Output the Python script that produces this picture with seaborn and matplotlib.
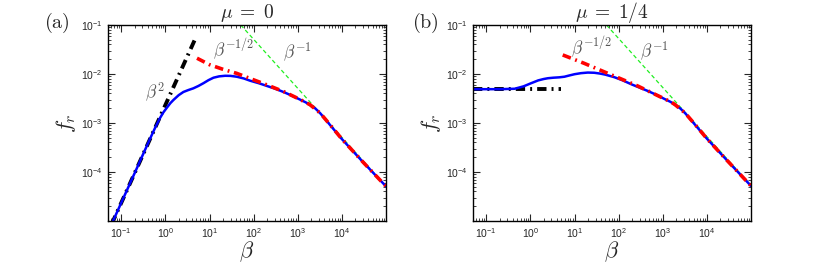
import numpy as np
import pandas as pd
import matplotlib
matplotlib.use("Agg")
import matplotlib.pyplot as plt
import matplotlib.ticker as mticker
import seaborn as sns

# ---------------- data ----------------
# panel (a): mu = 0
a_beta_fr = [0.06, 0.065, 0.2, 0.3, 0.45, 0.6, 0.75, 0.9, 1.1, 1.3, 1.52, 2.0, 2.56, 3.3, 4.3,
             5.6, 7.3, 9.5, 12.3, 16.5, 22.6, 30, 41.5, 60, 83, 130, 200, 310, 473, 720, 1130,
             1500, 1900, 2500, 3230, 4200, 5400, 10000, 30000, 100000]
a_fr = [8.5e-6, 1.0e-5, 9.4e-5, 2.13e-4, 4.8e-4, 8.4e-4, 1.25e-3, 1.65e-3, 2.1e-3, 2.55e-3,
        2.95e-3, 3.7e-3, 4.3e-3, 4.7e-3, 5.1e-3, 5.7e-3, 6.5e-3, 7.5e-3, 8.4e-3, 8.95e-3,
        9.2e-3, 9.15e-3, 8.8e-3, 8.1e-3, 7.3e-3, 6.5e-3, 5.7e-3, 5.0e-3, 4.3e-3, 3.65e-3,
        3.0e-3, 2.65e-3, 2.34e-3, 1.98e-3, 1.58e-3, 1.2e-3, 9.1e-4, 4.7e-4, 1.6e-4, 5.1e-5]
a_beta_red = [5.2, 10, 20, 41.5, 83, 200, 473, 1130, 1900, 3230, 5400, 10000, 30000, 100000]
a_red = [2.1e-2, 1.55e-2, 1.25e-2, 1.03e-2, 8.1e-3, 6.0e-3, 4.4e-3, 3.02e-3, 2.36e-3,
         1.59e-3, 9.2e-4, 4.7e-4, 1.6e-4, 5.1e-5]
a_beta_black = [0.06, 5.0]
a_black = [8.5e-6, 5.8e-2]
a_beta_green = [51, 100000]
a_green = [1.0e-1, 5.1e-5]

# panel (b): mu = 1/4
b_beta_fr = [0.05, 0.2, 0.44, 0.7, 1.0, 1.5, 2.0, 2.5, 3.3, 4.5, 5.9, 7.5, 10, 14, 20, 28,
             38, 50, 80, 120, 200, 310, 473, 720, 1130, 1500, 1900, 2500, 3230, 4200, 5400,
             10000, 30000, 100000]
b_fr = [4.9e-3, 4.9e-3, 5.0e-3, 5.6e-3, 6.4e-3, 7.4e-3, 7.9e-3, 8.2e-3, 8.4e-3, 8.55e-3,
        8.8e-3, 9.3e-3, 9.9e-3, 1.04e-2, 1.07e-2, 1.06e-2, 1.02e-2, 9.7e-3, 8.6e-3, 7.5e-3,
        6.1e-3, 5.2e-3, 4.45e-3, 3.75e-3, 3.05e-3, 2.7e-3, 2.35e-3, 1.98e-3, 1.58e-3,
        1.2e-3, 9.2e-4, 4.8e-4, 1.65e-4, 5.2e-5]
b_beta_red = [5.4, 16.6, 57, 115, 270, 780, 1500, 1900, 3230, 5400, 10000, 30000, 100000]
b_red = [2.45e-2, 1.65e-2, 1.03e-2, 7.9e-3, 5.7e-3, 3.6e-3, 2.72e-3, 2.37e-3, 1.59e-3,
         9.3e-4, 4.8e-4, 1.65e-4, 5.2e-5]
b_beta_black = [0.05, 5.0]
b_black = [4.9e-3, 4.9e-3]
b_beta_green = [53, 100000]
b_green = [1.0e-1, 5.3e-5]

titles = [r"$\mu\;=\;0$", r"$\mu\;=\;1/4$"]
panel_tags = [r"$\mathrm{(a)}$", r"$\mathrm{(b)}$"]
xtick_vals = [1e-1, 1e0, 1e1, 1e2, 1e3, 1e4]
ytick_vals = [1e-4, 1e-3, 1e-2, 1e-1]

# ---------------- style ----------------
sns.set_style("ticks")
plt.rcParams["font.family"] = ["Liberation Sans", "DejaVu Sans"]
plt.rcParams["mathtext.fontset"] = "cm"
plt.rcParams["xtick.direction"] = "in"
plt.rcParams["ytick.direction"] = "in"

fig = plt.figure(figsize=(8.3, 2.65), dpi=100)
ax_a = fig.add_axes([108 / 830, 44 / 265, 278 / 830, 196 / 265])
ax_b = fig.add_axes([473 / 830, 44 / 265, 278 / 830, 196 / 265])

panels = [
    (ax_a, a_beta_fr, a_fr, a_beta_red, a_red, a_beta_black, a_black, a_beta_green, a_green),
    (ax_b, b_beta_fr, b_fr, b_beta_red, b_red, b_beta_black, b_black, b_beta_green, b_green),
]

dashdot = (0, (2.4, 1.3, 0.5, 1.3))
for ax, bx, by, rx, ry, kx, ky, gx, gy in panels:
    ax.set_xscale("log")
    ax.set_yscale("log")
    sns.lineplot(x=gx, y=gy, ax=ax, color="#22ee22", lw=0.9, sort=False,
                 linestyle=(0, (3.2, 2.2)))
    sns.lineplot(x=kx, y=ky, ax=ax, color="black", lw=2.8, sort=False, linestyle=dashdot)
    sns.lineplot(x=bx, y=by, ax=ax, color="#0000ff", lw=1.8, sort=False)
    sns.lineplot(x=rx, y=ry, ax=ax, color="#ff0000", lw=2.6, sort=False, linestyle=dashdot)
    ax.set_xlim(0.05, 1e5)
    ax.set_ylim(1e-5, 1e-1)
    ax.xaxis.set_major_locator(mticker.FixedLocator(xtick_vals))
    ax.yaxis.set_major_locator(mticker.FixedLocator(ytick_vals))
    ax.xaxis.set_minor_locator(mticker.LogLocator(base=10, subs=np.arange(2, 10), numticks=20))
    ax.yaxis.set_minor_locator(mticker.LogLocator(base=10, subs=np.arange(2, 10), numticks=20))
    fmt = mticker.FuncFormatter(lambda v, p: r"$\mathregular{10^{%d}}$" % int(round(np.log10(v))))
    ax.xaxis.set_major_formatter(fmt)
    ax.yaxis.set_major_formatter(fmt)
    ax.yaxis.set_minor_formatter(mticker.NullFormatter())
    ax.xaxis.set_minor_formatter(mticker.NullFormatter())
    ax.tick_params(which="major", length=5, width=0.8, top=True, right=True, labelsize=7.5, pad=4)
    ax.tick_params(which="minor", length=2.5, width=0.6, top=True, right=True)
    for s in ax.spines.values():
        s.set_linewidth(1.0)
        s.set_color("black")
    ax.set_xlabel(r"$\beta$", fontsize=16, labelpad=-1)
    ax.set_ylabel(r"$f_r$", fontsize=16, labelpad=2)

ax_a.set_title(titles[0], fontsize=14, pad=5)
ax_b.set_title(titles[1], fontsize=14, pad=5)
fig.text(57 / 830, 1 - 23 / 265, panel_tags[0], fontsize=14.5, ha="center", va="center")
fig.text(425 / 830, 1 - 23 / 265, panel_tags[1], fontsize=14.5, ha="center", va="center")

ann = dict(fontsize=12.5, color="#555555", ha="center", va="center")
ax_a.text(0.58, 4.3e-3, r"$\beta^2$", **ann)
ax_a.text(10 ** 1.54, 10 ** -1.51, r"$\beta^{-1/2}$", **ann)
ax_a.text(1000, 10 ** -1.55, r"$\beta^{-1}$", **ann)
ax_b.text(10 ** 1.38, 10 ** -1.47, r"$\beta^{-1/2}$", **ann)
ax_b.text(10 ** 2.81, 10 ** -1.53, r"$\beta^{-1}$", **ann)

fig.savefig("out.png", dpi=100)
